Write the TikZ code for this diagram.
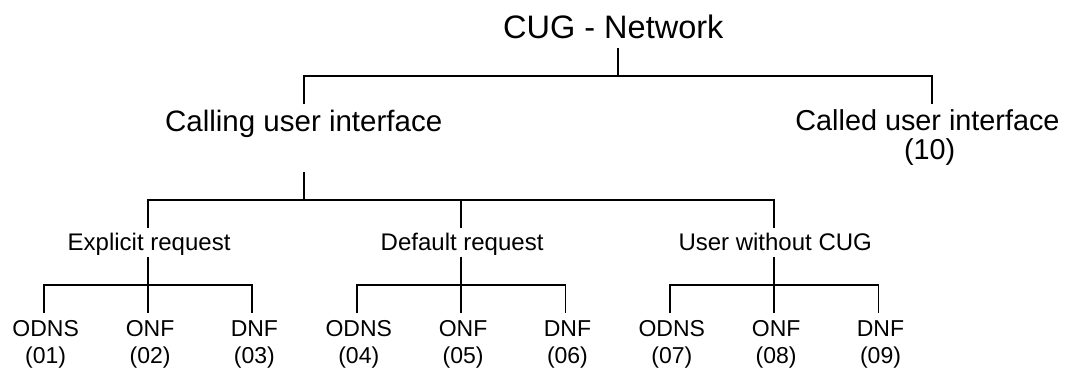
\documentclass[tikz,border=0pt]{standalone}
\usepackage{fontspec}
\setmainfont{Liberation Sans}
\begin{document}
\begin{tikzpicture}[x=1pt,y=-1pt,
  conn/.style={line width=1.9pt, line cap=butt, line join=miter},
  txt/.style={inner sep=0pt, outer sep=0pt, anchor=base},
  topbox/.style={txt, font=\fontsize{32.5}{36}\selectfont, text depth=9.4pt},
  callbox/.style={txt, font=\fontsize{29.5}{34}\selectfont, text height=27.4pt, text depth=40pt},
  calledbox/.style={txt, font=\fontsize{28.8}{33}\selectfont, text height=26.4pt},
  calledcode/.style={txt, font=\fontsize{28.8}{33}\selectfont},
  midbox/.style={txt, font=\fontsize{24}{28}\selectfont, text height=22.4pt, text depth=6pt},
  leafbox/.style={txt, font=\fontsize{23}{27}\selectfont, text height=22.7pt},
  codebox/.style={txt, font=\fontsize{23}{27}\selectfont}]
\useasboundingbox (0,0) rectangle (1066,369);

% top level
\node[topbox] (cug) at (613.3,38.3) {CUG - Network};
\node[callbox] (call) at (303.7,131.7) {Calling user interface};
\node[calledbox] (called) at (927.5,130.7) {Called user interface};
\node[calledcode] (called10) at (929.7,159) {(10)};

\draw[conn] ([xshift=5pt]cug.south) -- ++(0,28);
\draw[conn] (call.north) -- ++(0,-28.6) -| ([xshift=4.8pt]called.north);

% middle level
\node[midbox] (exp) at (149.1,250.7) {Explicit request};
\node[midbox] (def) at (462.1,250.7) {Default request};
\node[midbox] (usr) at (775.2,250.7) {User without CUG};

\draw[conn] (call.south) -- ++(0,28.3);
\draw[conn] ([xshift=-1pt]exp.north) -- ++(0,-28.3) -| ([xshift=-1pt]usr.north);
\draw[conn] ([xshift=-1pt]def.north) -- ++(0,-28.3);

% leaves
\foreach \i/\nm/\cd in {0/ODNS/01,1/ONF/02,2/DNF/03,3/ODNS/04,4/ONF/05,5/DNF/06,6/ODNS/07,7/ONF/08,8/DNF/09}{
  \node[leafbox] (l\i) at ({43.7+104.35*\i+2},336) {\nm};
  \node[codebox] (c\i) at ({43.7+104.35*\i+2},363.3) {(\cd)};
}

\foreach \m/\a/\b/\c in {exp/0/1/2,def/3/4/5,usr/6/7/8}{
  \draw[conn] ([xshift=-1pt]\m.south) -- ++(0,28.3);
  \draw[conn] ([xshift=-2pt]l\a.north) -- ++(0,-28.3) -| ([xshift=-2pt]l\c.north);
  \draw[conn] ([xshift=-2pt]l\b.north) -- ++(0,-28.3);
}
\end{tikzpicture}
\end{document}
